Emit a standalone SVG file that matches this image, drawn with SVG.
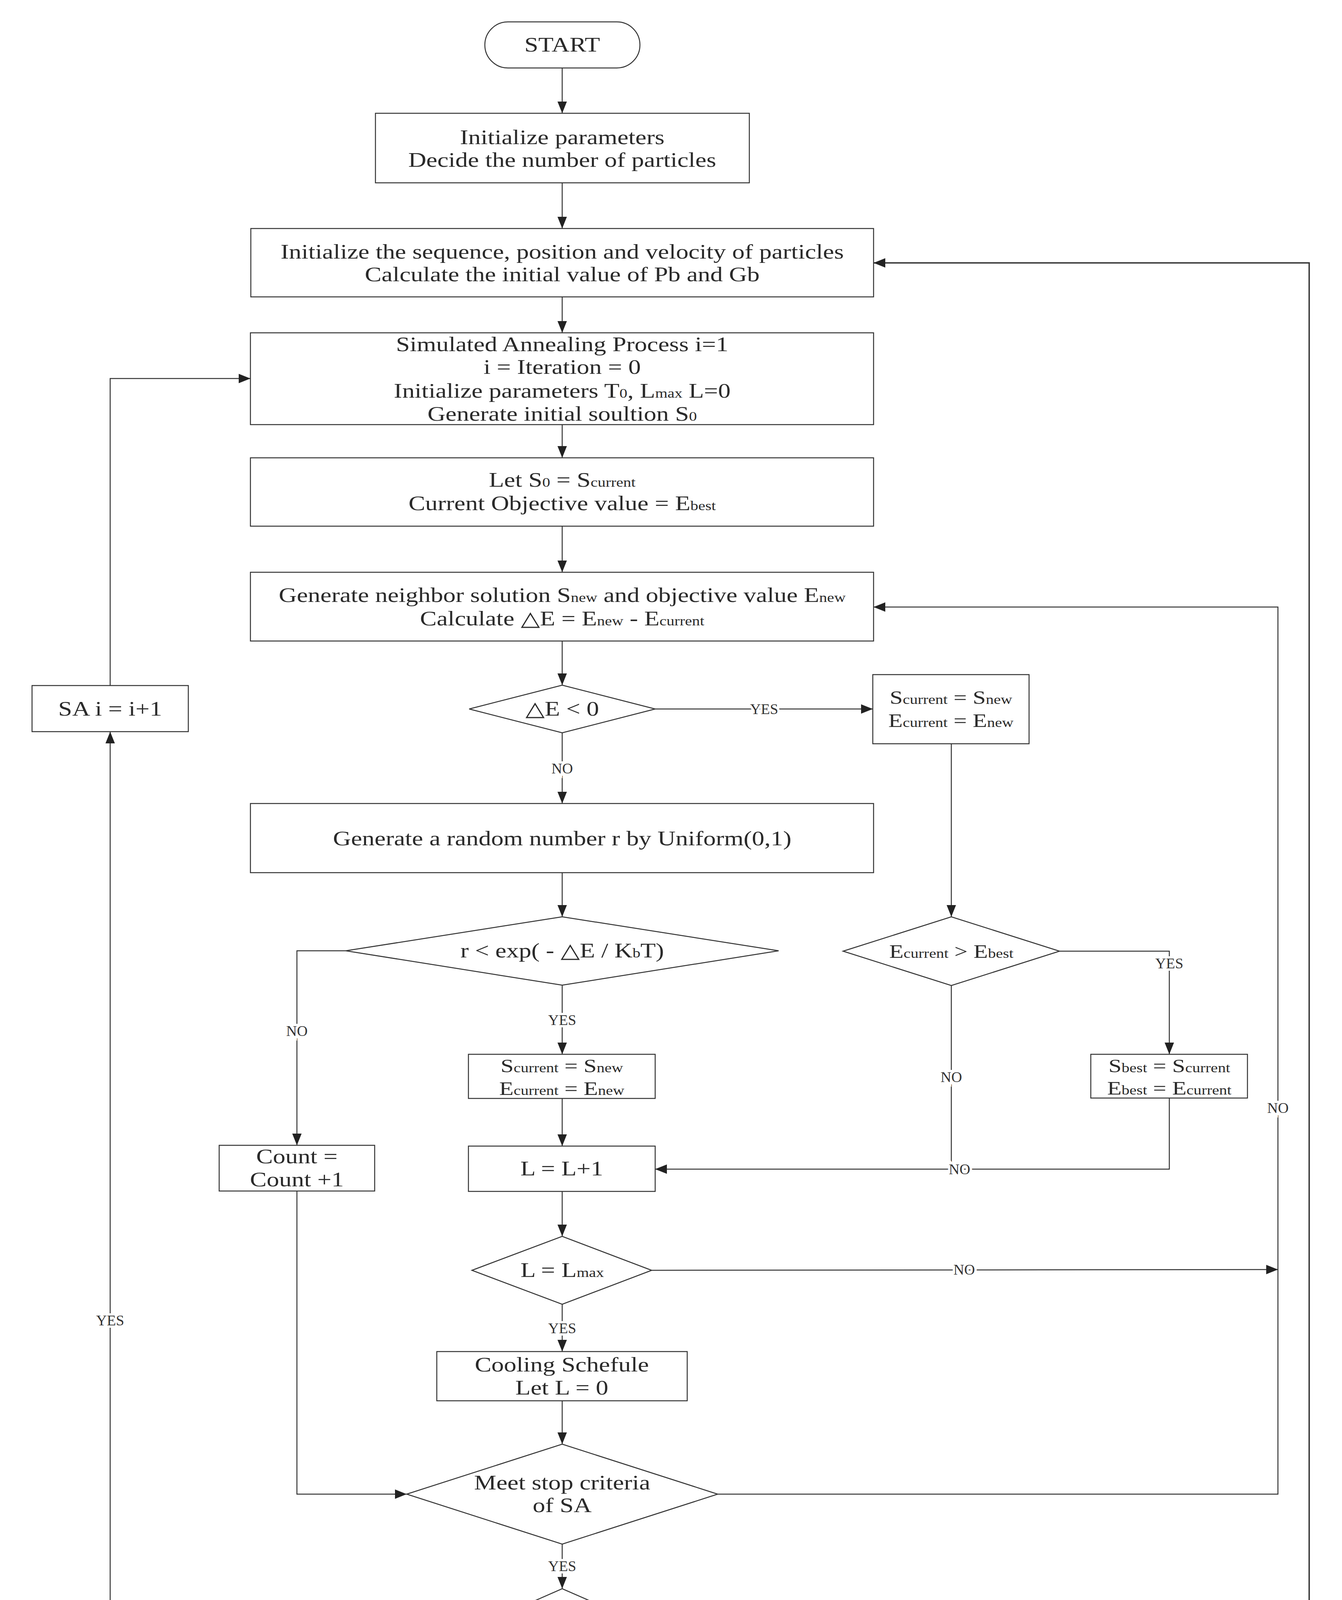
<svg xmlns="http://www.w3.org/2000/svg" width="3435" height="5095" viewBox="0 0 3435 5095">
<style>
.bg{fill:#fff}
.n{fill:#fff;stroke:#333;stroke-width:2.5}
.c{fill:none;stroke:#333;stroke-width:2.5}
.thick{stroke-width:3.5}
.t{font-family:"Liberation Serif","Times New Roman",serif;font-size:52px;fill:#2a2a2a;text-anchor:middle}
.s{font-size:49px}
.sub{font-size:33px}
.lbl{font-family:"Liberation Serif","Times New Roman",serif;font-size:38px;fill:#333;text-anchor:middle;paint-order:stroke;stroke:#fff;stroke-width:12px}
</style>
<defs>
<marker id="ah" markerUnits="userSpaceOnUse" markerWidth="30" markerHeight="24" refX="30" refY="12" orient="auto">
<path d="M0,0 L30,12 L0,24 z" fill="#222"/>
</marker>
</defs>
<rect class="bg" width="3435" height="5095"/>

<g id="connectors">
<path class="c" d="M1439,174 V290" marker-end="url(#ah)"/>
<path class="c" d="M1439,468 V585" marker-end="url(#ah)"/>
<path class="c" d="M1439,760 V852" marker-end="url(#ah)"/>
<path class="c" d="M1439,1087 V1172" marker-end="url(#ah)"/>
<path class="c" d="M1439,1347 V1465" marker-end="url(#ah)"/>
<path class="c" d="M1439,1641 V1754" marker-end="url(#ah)"/>
<path class="c" d="M1677,1815 H2234" marker-end="url(#ah)"/>
<path class="c" d="M1439,1876 V2057" marker-end="url(#ah)"/>
<path class="c" d="M1439,2234 V2347" marker-end="url(#ah)"/>
<path class="c" d="M1439,2522 V2699" marker-end="url(#ah)"/>
<path class="c" d="M885,2434 H760 V2932" marker-end="url(#ah)"/>
<path class="c" d="M2435,1904 V2347" marker-end="url(#ah)"/>
<path class="c" d="M2712,2435 H2993 V2699" marker-end="url(#ah)"/>
<path class="c" d="M2435,2523 V2993"/>
<path class="c" d="M2993,2811 V2993 H1677" marker-end="url(#ah)"/>
<path class="c" d="M1439,2812 V2934" marker-end="url(#ah)"/>
<path class="c" d="M760,3049 V3825 H1041" marker-end="url(#ah)"/>
<path class="c" d="M1439,3050 V3165" marker-end="url(#ah)"/>
<path class="c" d="M1668,3252 L3271,3250" marker-end="url(#ah)"/>
<path class="c" d="M1439,3339 V3460" marker-end="url(#ah)"/>
<path class="c" d="M1439,3586 V3697" marker-end="url(#ah)"/>
<path class="c" d="M1837,3825 H3271 V1554 H2236" marker-end="url(#ah)"/>
<path class="c" d="M1439,3953 V4067" marker-end="url(#ah)"/>
<path class="c" d="M1241,4154 H282 V1873" marker-end="url(#ah)"/>
<path class="c" d="M282,1755 V969 H641" marker-end="url(#ah)"/>
<path class="c" d="M1439,4241 V4354" marker-end="url(#ah)"/>
<path class="c thick" d="M2029,4443 H3351 V673 H2236" marker-end="url(#ah)"/>
<path class="c" d="M1439,4531 V4645" marker-end="url(#ah)"/>
<path class="c" d="M1851,4732 H2777 V4443" marker-end="url(#ah)"/>
<path class="c" d="M1439,4820 V4934" marker-end="url(#ah)"/>
<text class="lbl" x="1956" y="1828">YES</text>
<text class="lbl" x="1439" y="1980">NO</text>
<text class="lbl" x="1439" y="2624">YES</text>
<text class="lbl" x="760" y="2652">NO</text>
<text class="lbl" x="2993" y="2479">YES</text>
<text class="lbl" x="2435" y="2770">NO</text>
<text class="lbl" x="2456" y="3006">NO</text>
<text class="lbl" x="3271" y="2849">NO</text>
<text class="lbl" x="2468" y="3263">NO</text>
<text class="lbl" x="1439" y="3413">YES</text>
<text class="lbl" x="282" y="3393">YES</text>
<text class="lbl" x="1439" y="4022">YES</text>
<text class="lbl" x="2503" y="4745">NO</text>
<text class="lbl" x="1439" y="4889">YES</text>
</g>

<g id="start">
<rect class="n" x="1241" y="56" width="397" height="118" rx="59" ry="59"/>
<text class="t" transform="translate(1439,132) scale(1.23,1)">START</text>
</g>
<g id="init-params">
<rect class="n" x="961" y="290" width="957" height="178"/>
<text class="t" transform="translate(1439,369) scale(1.23,1)">Initialize parameters</text>
<text class="t" transform="translate(1439,427) scale(1.23,1)">Decide the number of particles</text>
</g>
<g id="init-sequence">
<rect class="n" x="642" y="585" width="1594" height="175"/>
<text class="t" transform="translate(1439,662) scale(1.23,1)">Initialize the sequence, position and velocity of particles</text>
<text class="t" transform="translate(1439,720) scale(1.23,1)">Calculate the initial value of Pb and Gb</text>
</g>
<g id="sa-process">
<rect class="n" x="641" y="852" width="1595" height="235"/>
<text class="t" transform="translate(1439,899) scale(1.23,1)">Simulated Annealing Process i=1</text>
<text class="t" transform="translate(1439,957) scale(1.23,1)">i = Iteration = 0</text>
<text class="t" transform="translate(1439,1018) scale(1.23,1)">Initialize parameters T<tspan class="sub">0</tspan>, L<tspan class="sub">max</tspan> L=0</text>
<text class="t" transform="translate(1439,1077) scale(1.23,1)">Generate initial soultion S<tspan class="sub">0</tspan></text>
</g>
<g id="let-s0">
<rect class="n" x="641" y="1172" width="1595" height="175"/>
<text class="t" transform="translate(1439,1246) scale(1.23,1)">Let S<tspan class="sub">0</tspan> = S<tspan class="sub">current</tspan></text>
<text class="t" transform="translate(1439,1306) scale(1.23,1)">Current Objective value = E<tspan class="sub">best</tspan></text>
</g>
<g id="gen-neighbor">
<rect class="n" x="641" y="1465" width="1595" height="176"/>
<text class="t" transform="translate(1439,1541) scale(1.23,1)">Generate neighbor solution S<tspan class="sub">new</tspan> and objective value E<tspan class="sub">new</tspan></text>
<text class="t" transform="translate(1439,1601) scale(1.23,1)">Calculate △E = E<tspan class="sub">new</tspan> - E<tspan class="sub">current</tspan></text>
</g>
<g id="delta-e">
<polygon class="n" points="1201,1815 1439,1754 1677,1815 1439,1876"/>
<text class="t" transform="translate(1439,1832) scale(1.23,1)">△E &lt; 0</text>
</g>
<g id="accept-1">
<rect class="n" x="2234" y="1727" width="400" height="177"/>
<text class="t s" transform="translate(2434,1802) scale(1.23,1)">S<tspan class="sub">current</tspan> = S<tspan class="sub">new</tspan></text>
<text class="t s" transform="translate(2434,1861) scale(1.23,1)">E<tspan class="sub">current</tspan> = E<tspan class="sub">new</tspan></text>
</g>
<g id="sa-inc">
<rect class="n" x="82" y="1755" width="400" height="118"/>
<text class="t" transform="translate(282,1832) scale(1.23,1)">SA i = i+1</text>
</g>
<g id="random">
<rect class="n" x="641" y="2057" width="1595" height="177"/>
<text class="t" transform="translate(1439,2164) scale(1.23,1)">Generate a random number r by Uniform(0,1)</text>
</g>
<g id="metropolis">
<polygon class="n" points="885,2434 1439,2347 1993,2434 1439,2522"/>
<text class="t" transform="translate(1439,2451) scale(1.23,1)">r &lt; exp( - △E / K<tspan class="sub">b</tspan>T)</text>
</g>
<g id="compare-best">
<polygon class="n" points="2158,2435 2435,2347 2712,2435 2435,2523"/>
<text class="t s" transform="translate(2435,2452) scale(1.23,1)">E<tspan class="sub">current</tspan> &gt; E<tspan class="sub">best</tspan></text>
</g>
<g id="accept-2">
<rect class="n" x="1199" y="2699" width="478" height="113"/>
<text class="t s" transform="translate(1438,2745) scale(1.23,1)">S<tspan class="sub">current</tspan> = S<tspan class="sub">new</tspan></text>
<text class="t s" transform="translate(1438,2803) scale(1.23,1)">E<tspan class="sub">current</tspan> = E<tspan class="sub">new</tspan></text>
</g>
<g id="update-best">
<rect class="n" x="2792" y="2699" width="401" height="112"/>
<text class="t s" transform="translate(2993,2745) scale(1.23,1)">S<tspan class="sub">best</tspan> = S<tspan class="sub">current</tspan></text>
<text class="t s" transform="translate(2993,2802) scale(1.23,1)">E<tspan class="sub">best</tspan> = E<tspan class="sub">current</tspan></text>
</g>
<g id="count">
<rect class="n" x="561" y="2932" width="398" height="117"/>
<text class="t" transform="translate(760,2978) scale(1.23,1)">Count =</text>
<text class="t" transform="translate(760,3037) scale(1.23,1)">Count +1</text>
</g>
<g id="l-inc">
<rect class="n" x="1199" y="2934" width="478" height="116"/>
<text class="t" transform="translate(1438,3009) scale(1.23,1)">L = L+1</text>
</g>
<g id="l-max">
<polygon class="n" points="1208,3252 1439,3165 1668,3252 1439,3339"/>
<text class="t" transform="translate(1439,3269) scale(1.23,1)">L = L<tspan class="sub">max</tspan></text>
</g>
<g id="cooling">
<rect class="n" x="1118" y="3460" width="641" height="126"/>
<text class="t" transform="translate(1438,3511) scale(1.23,1)">Cooling Schefule</text>
<text class="t" transform="translate(1438,3570) scale(1.23,1)">Let L = 0</text>
</g>
<g id="stop-sa">
<polygon class="n" points="1041,3825 1439,3697 1837,3825 1439,3953"/>
<text class="t" transform="translate(1439,3813) scale(1.23,1)">Meet stop criteria</text>
<text class="t" transform="translate(1439,3871) scale(1.23,1)">of SA</text>
</g>
<g id="sa-check">
<polygon class="n" points="1241,4154 1439,4067 1637,4154 1439,4241"/>
<text class="t" transform="translate(1439,4171) scale(1.23,1)">SA i = 1</text>
</g>
<g id="update-pso">
<rect class="n" x="848" y="4354" width="1181" height="177"/>
<text class="t" transform="translate(1439,4402) scale(1.23,1)">Update the position and velocity of particles</text>
<text class="t" transform="translate(1439,4460) scale(1.23,1)">Update Pb, Gb</text>
<text class="t" transform="translate(1439,4519) scale(1.23,1)">PSO Iteration+1</text>
</g>
<g id="stop-pso">
<polygon class="n" points="1025,4732 1439,4645 1851,4732 1439,4820"/>
<text class="t" transform="translate(1439,4749) scale(1.23,1)">Meet stop criteria</text>
</g>
<g id="end">
<rect class="n" x="1240" y="4934" width="398" height="118" rx="59" ry="59"/>
<text class="t" transform="translate(1439,5008) scale(1.23,1)">END</text>
</g>
</svg>
